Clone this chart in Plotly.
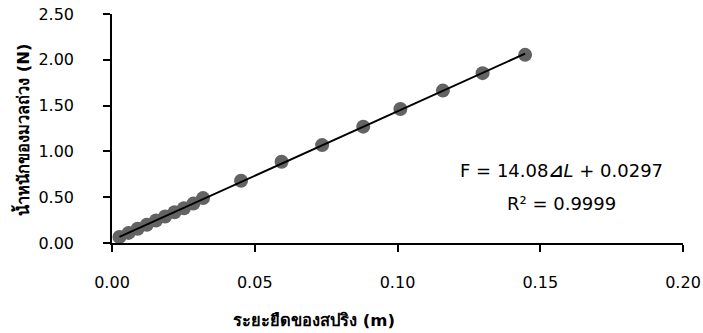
import plotly.graph_objects as go

# data
extension_m = [0.0026, 0.0058, 0.0090, 0.0122, 0.0154, 0.0186, 0.0219, 0.0252,
               0.0285, 0.0319, 0.0452, 0.0594, 0.0736, 0.0880, 0.1010, 0.1159,
               0.1298, 0.1447]
weight_n = [0.066, 0.110, 0.155, 0.200, 0.245, 0.290, 0.335, 0.380, 0.430,
            0.490, 0.680, 0.887, 1.069, 1.270, 1.463, 1.664, 1.854, 2.054]
slope = 14.08
intercept = 0.0297
x_ticks = [0.00, 0.05, 0.10, 0.15, 0.20]
y_ticks = [0.00, 0.50, 1.00, 1.50, 2.00, 2.50]

trend_x = [min(extension_m), max(extension_m)]
trend_y = [slope * v + intercept for v in trend_x]

FONT = "Tahoma, 'DejaVu Sans', 'Noto Sans', sans-serif"

fig = go.Figure()
fig.add_trace(go.Scatter(x=extension_m, y=weight_n, mode="markers",
                         marker=dict(size=14, color="#636363"),
                         showlegend=False, hoverinfo="skip", cliponaxis=False))
fig.add_trace(go.Scatter(x=trend_x, y=trend_y, mode="lines",
                         line=dict(color="black", width=2),
                         showlegend=False, hoverinfo="skip"))

axis_common = dict(showline=True, linecolor="black", linewidth=1.5,
                   ticks="outside", ticklen=7, tickcolor="black", tickwidth=1.5,
                   showgrid=False, zeroline=False, automargin=False,
                   tickfont=dict(family=FONT, size=16, color="black"),
                   tickformat=".2f")
fig.update_xaxes(range=[0, 0.2], tickvals=x_ticks, ticklabelstandoff=17, **axis_common)
fig.update_yaxes(range=[0, 2.5], tickvals=y_ticks, ticklabelstandoff=26, **axis_common)

L, R, T, B = 112, 20, 14, 90
W, H = 703, 333
pw = W - L - R
ph = H - T - B


def px(xp):
    return (xp - L) / pw


def py(yp):
    return (H - B - yp) / ph


def note(x, y, text, size, angle=0):
    return dict(x=px(x), y=py(y), xref="paper", yref="paper", text=text,
                showarrow=False, textangle=angle, xanchor="center",
                yanchor="middle", font=dict(family=FONT, size=size, color="black"))


fig.update_layout(
    width=W, height=H,
    margin=dict(l=L, r=R, t=T, b=B),
    plot_bgcolor="white", paper_bgcolor="white",
    font=dict(family=FONT, color="black"),
    annotations=[
        note(314, 320, "<b>ระยะยืดของสปริง (m)</b>", 16.5),
        note(22, 130, "<b>น้ำหนักของมวลถ่วง (N)</b>", 16.5, -90),
        note(561, 171, "F = 14.08<b>⊿</b><i>L</i> + 0.0297", 18),
        note(561, 203, "R² = 0.9999", 18),
    ],
)

fig.write_html("out.html", config={"displayModeBar": False},
               post_script="document.body.style.margin='0';document.body.style.overflow='hidden';")
